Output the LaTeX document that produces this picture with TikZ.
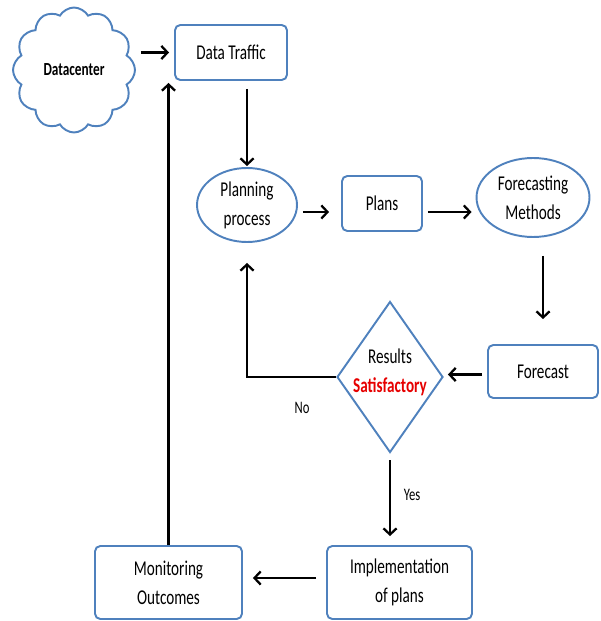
\documentclass[tikz,border=0pt]{standalone}
\usepackage{fontspec}
\setmainfont{Carlito}[FakeStretch=0.72]
\usetikzlibrary{arrows.meta,shapes.geometric,shapes.symbols}
\definecolor{boxblue}{RGB}{79,129,189}
\definecolor{satred}{RGB}{230,0,0}
\tikzset{
  txt/.style={font=\fontsize{12}{16.5}\selectfont, align=center, text=black},
  rbox/.style={txt, draw=boxblue, line width=1.1pt, rounded corners=3pt, inner sep=0pt},
  oval/.style={txt, ellipse, draw=boxblue, line width=1.1pt, inner sep=0pt},
  arr/.style={-{Straight Barb[length=3.5pt,width=7.5pt]}, line width=1.3pt, black},
  small/.style={font=\fontsize{10}{12}\selectfont, text=black}
}
\begin{document}
\begin{tikzpicture}[x=0.02cm, y=-0.02cm]
\useasboundingbox (0,0) rectangle (600,621);
\node[cloud, cloud puffs=12, cloud puff arc=120, aspect=1, draw=boxblue, line width=1.1pt,
      minimum width=2.44cm, minimum height=2.5cm, inner sep=0pt,
      font=\fontsize{10.5}{12}\selectfont\bfseries] (dc) at (74,70) {Datacenter};
\node[rbox, minimum width=2.24cm, minimum height=1.1cm] (dt) at (231,52.5) {Data Traffic};
\node[oval, minimum width=2.0cm, minimum height=1.48cm] (pp) at (247,205) {Planning\\process};
\node[rbox, minimum width=1.6cm, minimum height=1.1cm] (pl) at (382,203.5) {Plans};
\node[oval, minimum width=2.26cm, minimum height=1.58cm] (fm) at (533,197.5) {Forecasting\\Methods};
\node[rbox, minimum width=2.2cm, minimum height=1.06cm] (fc) at (543,371.5) {Forecast};
\node[diamond, draw=boxblue, line width=1.1pt, minimum width=2.12cm, minimum height=3.02cm, inner sep=0pt] (rs) at (390,377) {};
\node[txt] (rst) at ([yshift=0.1cm]rs.center) {Results\\\textcolor{satred}{\bfseries Satisfactory}};
\node[rbox, minimum width=2.9cm, minimum height=1.46cm] (im) at (399.5,582.5) {Implementation\\of plans};
\node[rbox, minimum width=2.94cm, minimum height=1.46cm] (mo) at (168.5,582.5) {Monitoring\\Outcomes};
\node[small] (no) at (302,408) {No};
\node[small] (yes) at (412,495) {Yes};

\draw[arr, shorten <=0.1cm, shorten >=0.1cm] (dc.east |- dt.west) -- (dt.west);
\draw[arr, shorten <=0.16cm, shorten >=0.02cm] (pp.north |- dt.south) -- (pp.north);
\draw[arr, shorten <=0.1cm, shorten >=0.24cm] ([yshift=-0.14cm]pp.east) -- ([yshift=-0.14cm]pp.east -| pl.west);
\draw[arr, shorten <=0.1cm, shorten >=0.08cm] ([yshift=-0.17cm]pl.east) -- ([yshift=-0.17cm]pl.east -| fm.west);
\draw[arr, shorten <=0.36cm, shorten >=0.5cm] (fm.south -| fc.north) -- (fc.north);
\draw[arr, shorten <=0.1cm, shorten >=0.08cm] ([yshift=-0.06cm]fc.west) -- ([yshift=-0.06cm]fc.west -| rs.east);
\draw[arr, shorten >=0.4cm] (rs.west) -| (pp.south);
\draw[arr, shorten <=0.14cm, shorten >=0.18cm] (rs.south) -- (rs.south |- im.north);
\draw[arr, shorten <=0.2cm, shorten >=0.2cm] ([yshift=0.09cm]im.west) -- ([yshift=0.09cm]im.west -| mo.east);
\draw[arr, shorten >=0.04cm] (mo.north) -- (mo.north |- dt.south);
\end{tikzpicture}
\end{document}
